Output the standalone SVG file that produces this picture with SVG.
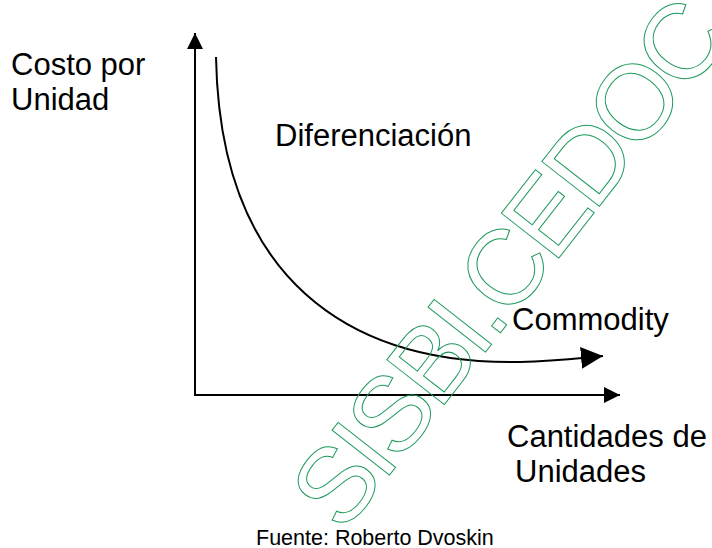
<svg xmlns="http://www.w3.org/2000/svg" width="712" height="548" viewBox="0 0 712 548">
<style>
.t{font-family:"Liberation Sans",Arial,sans-serif;font-size:31px;fill:#000}
.src{font-family:"Liberation Sans",Arial,sans-serif;font-size:21.5px;fill:#000}
.ln{fill:none;stroke:#000;stroke-width:2}
.wm{font-family:"Liberation Sans",Arial,sans-serif;font-size:106px;letter-spacing:-5px;fill:none;stroke:#1f9a5c;stroke-width:1}
</style>
<defs>
<marker id="ah" markerUnits="userSpaceOnUse" markerWidth="16" markerHeight="16" refX="16" refY="8" orient="auto">
<path d="M0,0 L16,8 L0,16 Z" fill="#000"/>
</marker>
<marker id="ahb" markerUnits="userSpaceOnUse" markerWidth="22" markerHeight="22" refX="22" refY="11" orient="auto">
<path d="M0,0 L22,11 L0,22 Z" fill="#000"/>
</marker>
</defs>
<rect width="712" height="548" fill="#fff"/>
<g id="connectors">
<line class="ln" x1="195" y1="396" x2="195" y2="33" marker-end="url(#ah)"/>
<line class="ln" x1="194" y1="395" x2="620" y2="395" marker-end="url(#ah)"/>
<path class="ln" d="M216,57 C220,280 350,365 520,362 C555,361 580,358 603,356" marker-end="url(#ahb)"/>
</g>
<g id="y-label"><text class="t" x="11" y="75">Costo por</text><text class="t" x="11" y="110">Unidad</text></g>
<g id="diferenciacion"><text class="t" x="275" y="146">Diferenciación</text></g>
<g id="commodity"><text class="t" x="512" y="330">Commodity</text></g>
<g id="x-label"><text class="t" x="507" y="447">Cantidades de</text><text class="t" x="515" y="482">Unidades</text></g>
<g id="source"><text class="src" x="256" y="545">Fuente: Roberto Dvoskin</text></g>
<g id="watermark"><text class="wm" transform="translate(506.5,263.5) rotate(-52)" x="0" y="38" text-anchor="middle">SISBI.CEDOC</text></g>
</svg>
